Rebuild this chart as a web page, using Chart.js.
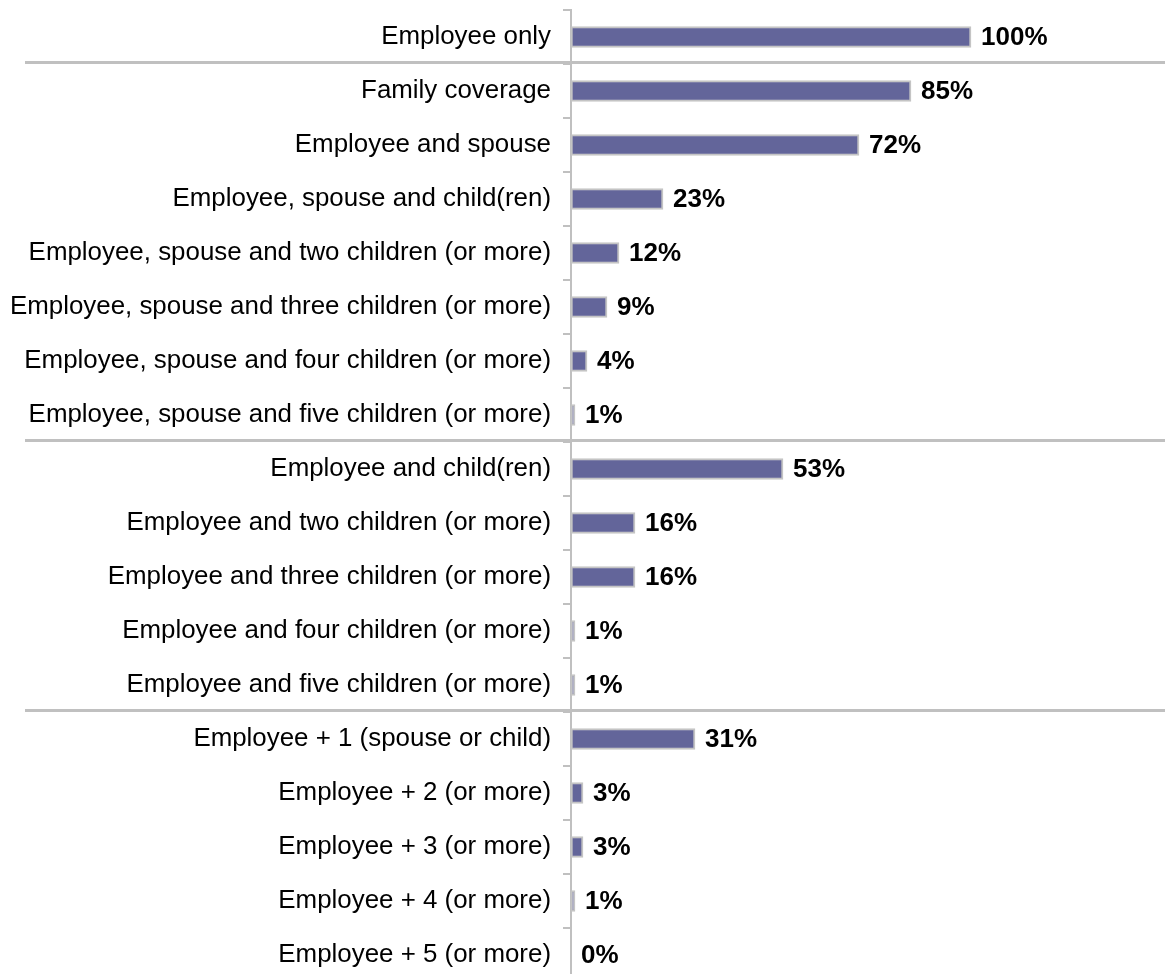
<!DOCTYPE html>
<html>
<head>
<meta charset="utf-8">
<script src="https://cdn.jsdelivr.net/npm/chart.js@4.4.0/dist/chart.umd.min.js"></script>
<style>
  html, body { margin: 0; padding: 0; background: #fff; overflow: hidden; }
  canvas { display: block; }
</style>
</head>
<body>
<canvas id="chart" width="1165" height="990"></canvas>
<script>
const categories = [
  "Employee only",
  "Family coverage",
  "Employee and spouse",
  "Employee, spouse and child(ren)",
  "Employee, spouse and two children (or more)",
  "Employee, spouse and three children (or more)",
  "Employee, spouse and four children (or more)",
  "Employee, spouse and five children (or more)",
  "Employee and child(ren)",
  "Employee and two children (or more)",
  "Employee and three children (or more)",
  "Employee and four children (or more)",
  "Employee and five children (or more)",
  "Employee + 1 (spouse or child)",
  "Employee + 2 (or more)",
  "Employee + 3 (or more)",
  "Employee + 4 (or more)",
  "Employee + 5 (or more)",
];
const shares = [100, 85, 72, 23, 12, 9, 4, 1, 53, 16, 16, 1, 1, 31, 3, 3, 1, 0];
// group breaks sit after these category indexes
const groupBreaks = [0, 7, 12];

const FONT = "'Liberation Sans', Arial, sans-serif";
const GREY = "#c0c0c0";

const valueLabels = {
  id: "valueLabels",
  afterDatasetsDraw(chart) {
    const ctx = chart.ctx;
    const meta = chart.getDatasetMeta(0);
    ctx.save();
    ctx.font = `bold 26px ${FONT}`;
    ctx.fillStyle = "#000";
    ctx.textAlign = "left";
    ctx.textBaseline = "middle";
    meta.data.forEach((bar, i) => {
      ctx.fillText(`${shares[i]}%`, bar.x + 10, bar.y + 1);
    });
    ctx.restore();
  },
};

const separators = {
  id: "separators",
  afterDraw(chart) {
    const ctx = chart.ctx;
    const y = chart.scales.y;
    ctx.save();
    ctx.strokeStyle = GREY;
    ctx.lineWidth = 3;
    groupBreaks.forEach((i) => {
      const py = Math.round((y.getPixelForValue(i) + y.getPixelForValue(i + 1)) / 2) - 1.5;
      ctx.beginPath();
      ctx.moveTo(25, py);
      ctx.lineTo(chart.width, py);
      ctx.stroke();
    });
    ctx.restore();
  },
};

new Chart(document.getElementById("chart"), {
  type: "bar",
  data: {
    labels: categories,
    datasets: [
      {
        data: shares,
        backgroundColor: "#63659a",
        borderColor: "#c4c4c4",
        borderWidth: 2,
        borderSkipped: false,
        barThickness: 21,
      },
    ],
  },
  options: {
    indexAxis: "y",
    responsive: false,
    animation: false,
    layout: { padding: { top: 10, bottom: 8, right: 14, left: 0 } },
    plugins: { legend: { display: false }, tooltip: { enabled: false } },
    scales: {
      x: { display: false, min: 0, max: 145 },
      y: {
        afterFit(scale) {
          scale.width = 571;
          scale.paddingTop = 0;
          scale.paddingBottom = 0;
        },
        grid: {
          offset: true,
          drawOnChartArea: false,
          drawTicks: true,
          tickLength: 8,
          color: GREY,
          lineWidth: 2,
        },
        border: { display: true, color: GREY, width: 2 },
        ticks: {
          color: "#000",
          padding: 12,
          font: { family: FONT, size: 25.9 },
        },
      },
    },
  },
  plugins: [valueLabels, separators],
});
</script>
</body>
</html>
